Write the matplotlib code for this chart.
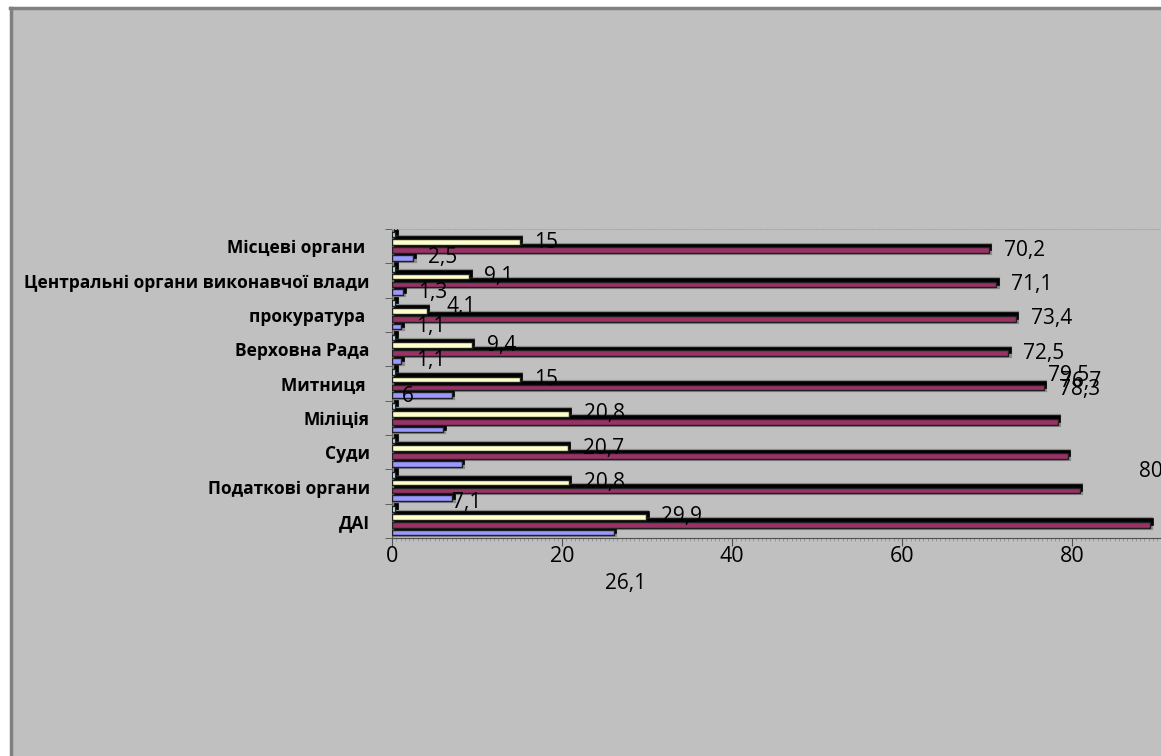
import numpy as np
import matplotlib.pyplot as plt
from matplotlib.patches import Rectangle
from matplotlib.ticker import MultipleLocator, FixedLocator

# data
categories = ["Місцеві органи ", "Центральні органи виконавчої влади", "прокуратура ",
              "Верховна Рада", "Митниця ", "Міліція", "Суди", "Податкові органи", "ДАІ"]
blue = [2.5, 1.3, 1.1, 1.1, 7.0, 6.0, 8.2, 7.1, 26.1]
maroon = [70.2, 71.1, 73.4, 72.5, 76.7, 78.3, 79.5, 80.9, 89.2]
cream = [15, 9.1, 4.1, 9.4, 15, 20.8, 20.7, 20.8, 29.9]
fourth = [0.4, 0.4, 0.4, 0.4, 0.4, 0.4, 0.4, 0.4, 0.4]
x_ticks = [0, 20, 40, 60, 80]

# series: values, colour, offset in bar pitches (negative = higher up)
series = [
    (blue, "#9999FF", 1.5),
    (maroon, "#993366", 0.5),
    (cream, "#FFFFCC", -0.5),
    (fourth, "#CCFFFF", -1.5),
]

# label nudges in pixels (dx, dy down) for labels Excel left out of place
nudges = {
    (1, 4): (1, -6), (1, 5): (-14, -32), (1, 6): (-35, -81), (1, 7): (44, -19),
    (0, 5): (-56, -33), (0, 7): (-15, 4), (0, 8): (-24, 51), (2, 2): (5, -4),
}
hidden = {(0, 4), (0, 6), (3, 0), (3, 1), (3, 2), (3, 3), (3, 4), (3, 5), (3, 6), (3, 7), (3, 8)}

W, H = 1161, 756
fig = plt.figure(figsize=(W / 100, H / 100), dpi=100, facecolor="white")
bg = "#C0C0C0"
fig.patches.append(Rectangle((10 / W, 0), 1, (H - 7) / H, transform=fig.transFigure,
                             facecolor=bg, edgecolor="none", zorder=-10))
fig.lines.append(plt.Line2D([11 / W, 11 / W], [0, (H - 8) / H], transform=fig.transFigure,
                            color="#808080", lw=2.5, zorder=-9))
fig.lines.append(plt.Line2D([10 / W, 1], [(H - 8) / H, (H - 8) / H], transform=fig.transFigure,
                            color="#808080", lw=2.5, zorder=-9))

left_px, right_px, top_px, bot_px = 392, 1161, 229, 538
ax = fig.add_axes([left_px / W, 1 - bot_px / H, (right_px - left_px) / W, (bot_px - top_px) / H])
ax.set_facecolor(bg)

px_per_unit = 8.5
xmax = (right_px - left_px) / px_per_unit
ax.set_xlim(0, xmax)
ax.set_ylim(len(categories) - 0.5, -0.5)

pitch = 0.227
bar_h = 0.165
sdx = 2.5 / px_per_unit
sdy = 2.5 / ((bot_px - top_px) / len(categories))

y = np.arange(len(categories))
for s, (vals, col, off) in enumerate(series):
    yy = y + off * pitch
    # soft grey halo + black drop shadow, then the bar itself
    ax.barh(yy - sdy / 2, vals, height=bar_h + sdy, left=sdx / 2, color="none",
            edgecolor="#8C8C8C", linewidth=3, zorder=1)
    ax.barh(yy - sdy, vals, height=bar_h, left=sdx, color="black",
            edgecolor="black", linewidth=1.2, zorder=2)
    ax.barh(yy, vals, height=bar_h, color=col, edgecolor="#202020", linewidth=1.0, zorder=3)
    for i, v in enumerate(vals):
        if (s, i) in hidden:
            continue
        dx, dy = nudges.get((s, i), (0, 0))
        ax.annotate(f"{v:g}".replace(".", ","), xy=(v, yy[i]), xytext=(15 + dx, -dy),
                    textcoords="offset pixels", ha="left", va="center",
                    fontsize=15, family="Open Sans", color="black",
                    annotation_clip=False, zorder=5)

# axes styling
ax.spines["right"].set_visible(False)
ax.spines["top"].set_color("#A8A8A8")
ax.spines["top"].set_linestyle(":")
ax.spines["left"].set_color("#606060")
ax.spines["bottom"].set_color("#505050")

ax.set_yticks(y)
ax.set_yticklabels(categories, fontsize=12.5, fontweight="bold", family="Open Sans")
ax.yaxis.set_minor_locator(FixedLocator(np.arange(-0.5, len(categories), 1)))
ax.tick_params(axis="y", which="major", length=0, pad=16)
ax.tick_params(axis="y", which="minor", length=5, color="#505050", direction="out")

ax.set_xticks(x_ticks)
ax.set_xticklabels([str(t) for t in x_ticks], fontsize=15.5, family="Open Sans")
ax.xaxis.set_minor_locator(MultipleLocator(0.5))
ax.tick_params(axis="x", which="major", length=6, color="#505050", direction="out", pad=0)
ax.tick_params(axis="x", which="minor", length=2.5, color="#909090", width=0.6, direction="out")

plt.savefig("out.png", dpi=100, facecolor="white")
